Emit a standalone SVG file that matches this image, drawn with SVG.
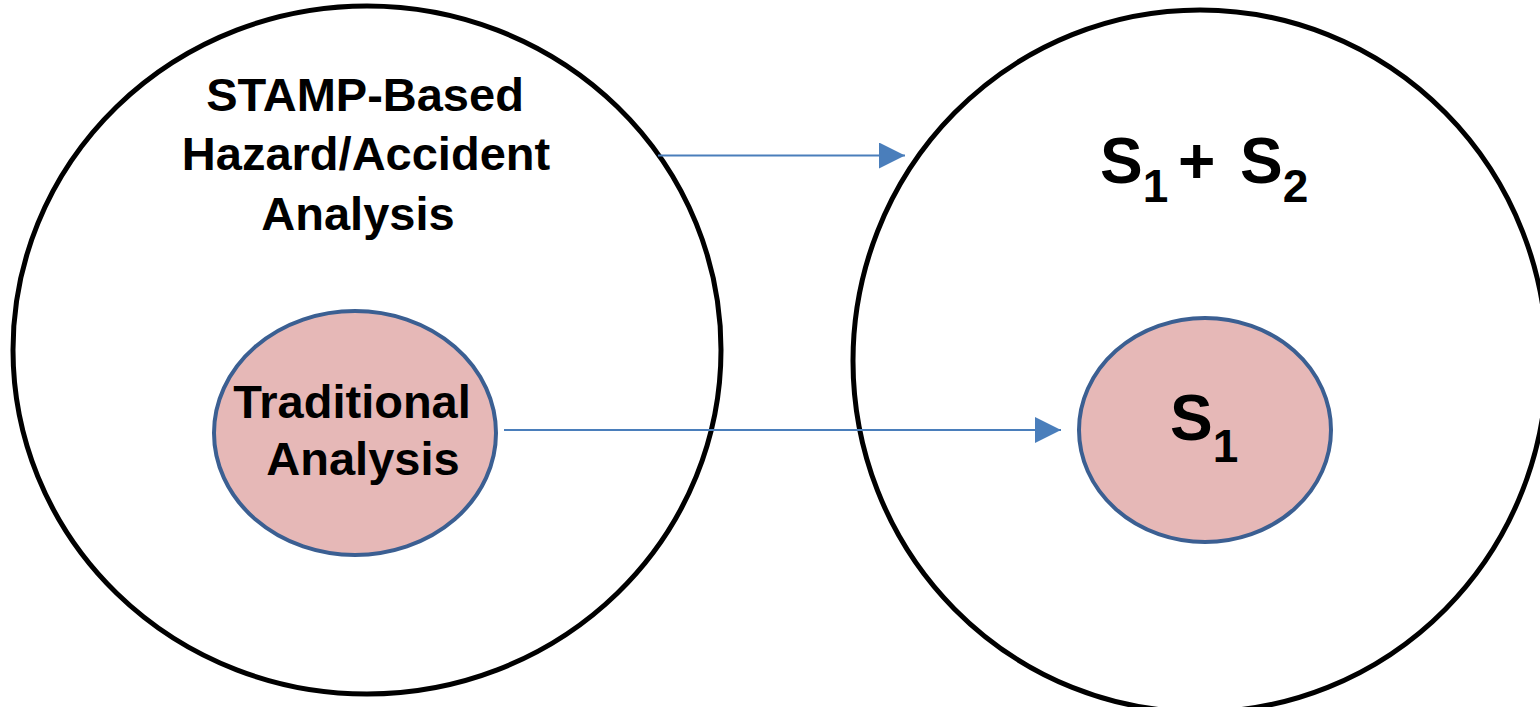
<svg xmlns="http://www.w3.org/2000/svg" width="1540" height="707" viewBox="0 0 1540 707">
  <style>
    .outer { fill: #ffffff; stroke: #000000; stroke-width: 5; }
    .inner { fill: #e6b8b7; stroke: #3b5f92; stroke-width: 4; }
    .lbl { font-family: "Liberation Sans", Arial, sans-serif; font-weight: bold; fill: #000000; }
    .big { font-size: 47px; text-anchor: middle; }
    .sym { font-size: 64px; }
    .sub { font-size: 46px; }
    .conn { stroke: #4a7ebb; stroke-width: 2.2; fill: none; marker-end: url(#arrow); }
  </style>
  <defs>
    <marker id="arrow" markerUnits="userSpaceOnUse" markerWidth="27" markerHeight="26" refX="26" refY="13" orient="auto">
      <path d="M0,0 L26,13 L0,26 z" fill="#4a7ebb"/>
    </marker>
  </defs>

  <rect width="1540" height="707" fill="#ffffff"/>

  <!-- left: broad analysis scope containing the traditional one -->
  <g id="stamp-analysis">
    <ellipse class="outer" cx="367" cy="350" rx="354" ry="344"/>
    <text class="lbl big" x="365" y="111">STAMP-Based</text>
    <text class="lbl big" x="366" y="170">Hazard/Accident</text>
    <text class="lbl big" x="358" y="230">Analysis</text>
  </g>

  <g id="traditional-analysis">
    <ellipse class="inner" cx="355" cy="433" rx="141" ry="122"/>
    <text class="lbl big" x="352" y="418">Traditional</text>
    <text class="lbl big" x="363" y="475">Analysis</text>
  </g>

  <!-- right: resulting scenario sets -->
  <g id="scenarios-all">
    <ellipse class="outer" cx="1200" cy="361" rx="347" ry="351"/>
    <text class="lbl sym" x="1100" y="183">S<tspan class="sub" dy="19">1</tspan><tspan x="1178" dy="-19">+</tspan><tspan x="1240">S</tspan><tspan class="sub" dy="19">2</tspan></text>
  </g>

  <g id="scenarios-traditional">
    <ellipse class="inner" cx="1205" cy="430" rx="126" ry="112"/>
    <text class="lbl sym" x="1170" y="440">S<tspan class="sub" dy="22">1</tspan></text>
  </g>

  <!-- connectors -->
  <g id="connectors">
    <line class="conn" x1="658" y1="155.5" x2="905" y2="155.5"/>
    <line class="conn" x1="504" y1="430" x2="1061" y2="430"/>
  </g>
</svg>
